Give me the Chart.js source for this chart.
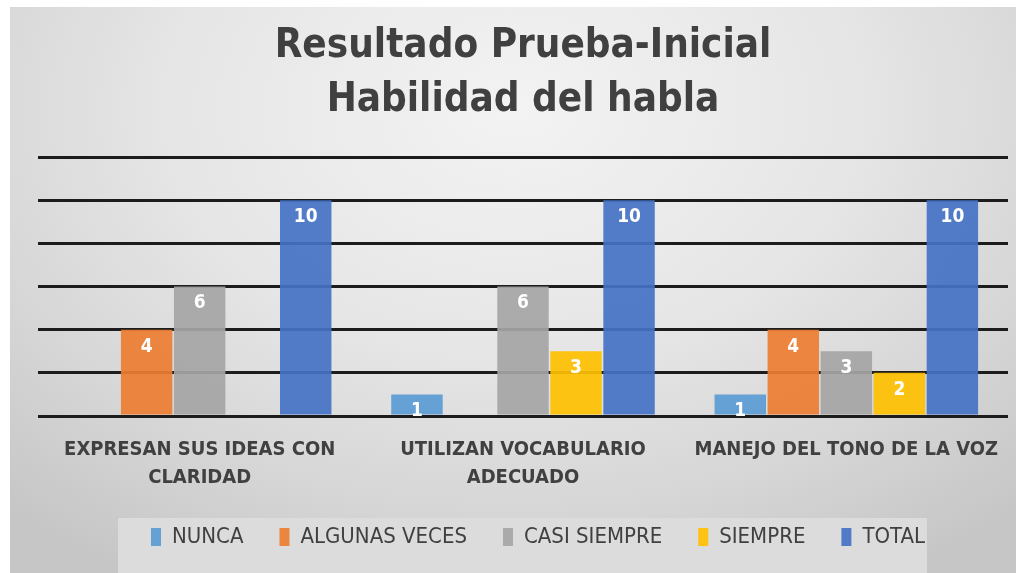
<!DOCTYPE html>
<html lang="es">
<head>
<meta charset="utf-8" />
<title>Resultado Prueba-Inicial</title>
<style>
*{box-sizing:border-box;margin:0;padding:0}
html,body{width:1016px;height:573px;background:#fff;overflow:hidden}
.frame{
    position:absolute;left:10px;top:7px;width:1006px;height:566px;
    background:radial-gradient(ellipse 75% 95% at 50% 18%, #f3f3f3 0%, #e6e6e6 45%, #d6d6d6 75%, #c6c6c6 100%);
}
canvas{display:block}
</style>
</head>
<body>
<div class="frame"><canvas id="chart" width="1006" height="566"></canvas></div>

<script src="https://cdn.jsdelivr.net/npm/chart.js@4.4.1"></script>
<script>
/* ─── data ─────────────────────────────────── */
const categories = [
    ['EXPRESAN SUS IDEAS CON', 'CLARIDAD'],
    ['UTILIZAN VOCABULARIO', 'ADECUADO'],
    'MANEJO DEL TONO DE LA VOZ'
];
const nunca        = [0, 1, 1];
const algunasVeces = [4, 0, 4];
const casiSiempre  = [6, 6, 3];
const siempre      = [0, 3, 2];
const total        = [10, 10, 10];

const FONT = '"Liberation Sans Narrow","DejaVu Sans Condensed","Liberation Sans",sans-serif';
const TEXT = '#404040';

/* white numbers near the top of each bar */
const barLabels = {
    id:'barLabels',
    afterDatasetsDraw(chart){
        const ctx = chart.ctx;
        ctx.save();
        ctx.fillStyle = '#fff';
        ctx.font = 'bold 19px ' + FONT;
        ctx.textAlign = 'center';
        ctx.textBaseline = 'middle';
        chart.data.datasets.forEach((ds, i) => {
            chart.getDatasetMeta(i).data.forEach((bar, j) => {
                const v = ds.data[j];
                if (!v) return;
                ctx.fillText(v, bar.x, bar.y + 17);
            });
        });
        ctx.restore();
    }
};

/* lighter panel behind the legend (legend sits a bit right of centre) */
const legendPanel = {
    id:'legendPanel',
    afterLayout(chart){
        const lg = chart.legend;
        if (!lg) return;
        lg.left += 15;
        lg.right += 15;
    },
    beforeDraw(chart){
        const lg = chart.legend;
        if (!lg || !lg.legendHitBoxes.length) return;
        const boxes = lg.legendHitBoxes;
        const first = boxes[0], last = boxes[boxes.length - 1];
        const top = first.top - 8;
        const ctx = chart.ctx;
        ctx.save();
        ctx.fillStyle = '#dcdcdc';
        ctx.fillRect(first.left - 33, top, last.left + last.width - first.left + 35, chart.height - top);
        ctx.restore();
    }
};

const mk = (label, data, color) => ({
    label, data, backgroundColor: color, borderWidth: 0,
    barPercentage: 0.97, categoryPercentage: 0.82
});

new Chart(document.getElementById('chart'), {
    type: 'bar',
    data: {
        labels: categories,
        datasets: [
            mk('NUNCA', nunca, 'rgba(91,155,213,0.92)'),
            mk('ALGUNAS VECES', algunasVeces, 'rgba(237,125,49,0.92)'),
            mk('CASI SIEMPRE', casiSiempre, 'rgba(165,165,165,0.92)'),
            mk('SIEMPRE', siempre, 'rgba(255,192,0,0.92)'),
            mk('TOTAL', total, 'rgba(68,114,196,0.92)')
        ]
    },
    options: {
        responsive: false,
        animation: false,
        layout: { padding: { left: 28, right: 8, top: 4, bottom: 15 } },
        scales: {
            y: {
                min: 0, max: 12,
                ticks: { display: false, stepSize: 2 },
                border: { display: false },
                grid: { color: '#1c1c1c', lineWidth: 3, drawTicks: false }
            },
            x: {
                grid: { display: false },
                border: { display: false },
                afterFit: s => { s.height -= 14; },
                ticks: {
                    color: TEXT,
                    padding: 12,
                    maxRotation: 0,
                    font: { family: FONT, size: 20, weight: 'bold', lineHeight: 1.4 }
                }
            }
        },
        plugins: {
            title: {
                display: true,
                text: ['Resultado Prueba-Inicial', 'Habilidad del habla'],
                color: TEXT,
                font: { family: FONT, size: 40, weight: 'bold', lineHeight: 1.35 },
                padding: { top: 9, bottom: 29 }
            },
            legend: {
                position: 'bottom',
                labels: {
                    color: TEXT,
                    boxWidth: 10,
                    boxHeight: 18,
                    padding: 36,
                    font: { family: FONT, size: 22 }
                }
            },
            tooltip: { enabled: false }
        }
    },
    plugins: [barLabels, legendPanel]
});
</script>
</body>
</html>
